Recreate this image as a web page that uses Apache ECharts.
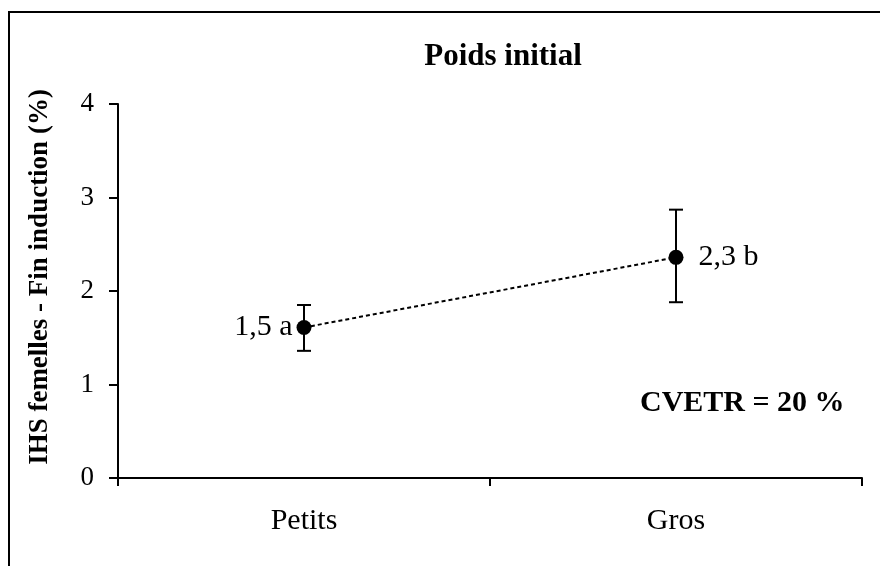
<!DOCTYPE html>
<html>
<head>
<meta charset="utf-8">
<script src="https://cdn.jsdelivr.net/npm/echarts@6/dist/echarts.min.js"></script>
<style>
html,body{margin:0;padding:0;background:#fff;}
#chart{width:880px;height:566px;}
</style>
</head>
<body>
<div id="chart"></div>
<script>
var categories = ['Petits', 'Gros'];
var means = [1.61, 2.36];
var errLow = [1.36, 1.88];
var errHigh = [1.85, 2.87];
var pointLabels = ['1,5 a', '2,3 b'];
var yTicks = [0, 1, 2, 3, 4];
var titleText = 'Poids initial';
var yTitle = 'IHS femelles - Fin induction (%)';
var noteText = 'CVETR = 20 %';

var FONT = "'Liberation Serif', 'Times New Roman', serif";
var chart = echarts.init(document.getElementById('chart'), null, {renderer: 'canvas'});

var option = {
  backgroundColor: '#fff',
  animation: false,
  title: {
    text: titleText,
    left: 498,
    top: 36,
    textAlign: 'center',
    textStyle: {fontFamily: FONT, fontWeight: 'bold', fontSize: 31, color: '#000'}
  },
  grid: {left: 118, right: 18, top: 104, bottom: 88, containLabel: false},
  xAxis: {
    type: 'category',
    data: categories,
    boundaryGap: true,
    axisLine: {lineStyle: {color: '#000', width: 2}},
    axisTick: {show: true, inside: false, length: 8, lineStyle: {color: '#000', width: 2}},
    axisLabel: {fontFamily: FONT, fontSize: 30, color: '#000', margin: 28}
  },
  yAxis: {
    type: 'value',
    min: yTicks[0],
    max: yTicks[yTicks.length - 1],
    interval: 1,
    splitLine: {show: false},
    axisLine: {show: true, lineStyle: {color: '#000', width: 2}},
    axisTick: {show: true, inside: false, length: 9, lineStyle: {color: '#000', width: 2}},
    axisLabel: {fontFamily: FONT, fontSize: 27, color: '#000', margin: 24}
  },
  graphic: [
    {
      type: 'rect',
      shape: {x: 9, y: 12, width: 900, height: 600},
      style: {fill: null, stroke: '#000', lineWidth: 2},
      silent: true
    },
    {
      type: 'text',
      x: 40,
      y: 277,
      rotation: Math.PI / 2,
      style: {
        text: yTitle,
        font: "bold 27px " + FONT,
        fill: '#000',
        textAlign: 'center',
        textVerticalAlign: 'middle'
      }
    },
    {
      type: 'text',
      left: 640,
      top: 388,
      style: {text: noteText, font: "bold 30px " + FONT, fill: '#000'}
    }
  ],
  series: [
    {
      type: 'custom',
      z: 3,
      renderItem: function (params, api) {
        var i = api.value(0);
        var lo = api.coord([i, api.value(1)]);
        var hi = api.coord([i, api.value(2)]);
        var cap = 7;
        var st = {stroke: '#000', lineWidth: 2};
        return {
          type: 'group',
          children: [
            {type: 'line', shape: {x1: lo[0], y1: lo[1], x2: hi[0], y2: hi[1]}, style: st},
            {type: 'line', shape: {x1: lo[0] - cap, y1: lo[1], x2: lo[0] + cap, y2: lo[1]}, style: st},
            {type: 'line', shape: {x1: hi[0] - cap, y1: hi[1], x2: hi[0] + cap, y2: hi[1]}, style: st}
          ]
        };
      },
      data: categories.map(function (c, i) { return [i, errLow[i], errHigh[i]]; })
    },
    {
      type: 'line',
      z: 4,
      symbol: 'circle',
      symbolSize: 15,
      itemStyle: {color: '#000'},
      lineStyle: {color: '#000', width: 2, type: [4, 3]},
      data: means.map(function (v, i) {
        return {
          value: v,
          label: {
            show: true,
            formatter: pointLabels[i],
            position: i === 0 ? 'left' : 'right',
            distance: i === 0 ? 4 : 15,
            fontFamily: FONT,
            fontSize: 30,
            color: '#000'
          }
        };
      })
    }
  ]
};
chart.setOption(option);
</script>
</body>
</html>
